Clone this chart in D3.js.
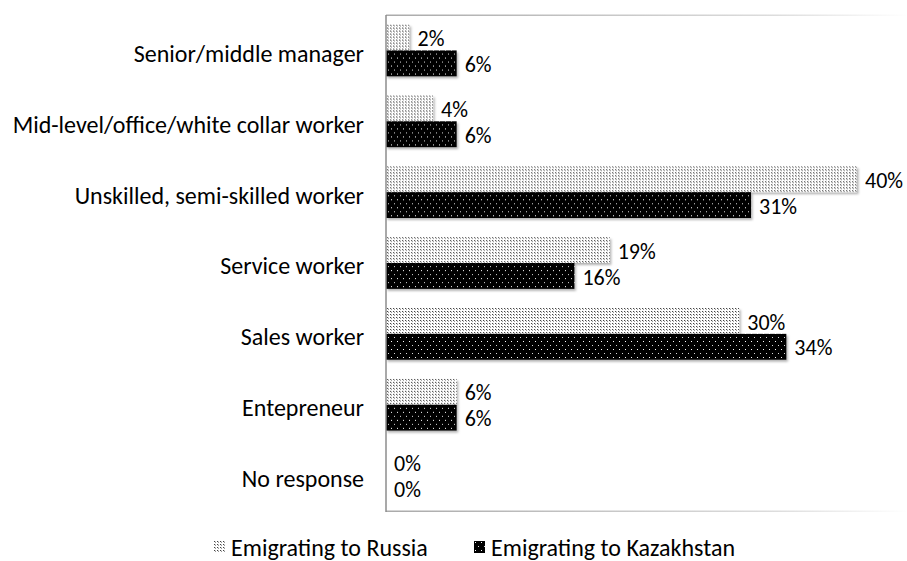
<!DOCTYPE html>
<html>
<head>
<meta charset="utf-8">
<script src="https://cdn.jsdelivr.net/npm/d3@7"></script>
<style>
  body { margin: 0; background: #fff; }
  svg { font-family: Carlito, Lato, sans-serif; }
</style>
</head>
<body>
<svg id="chart" width="907" height="561" viewBox="0 0 907 561"></svg>
<script>
// Data
const categories = ["Senior/middle manager", "Mid-level/office/white collar worker",
    "Unskilled, semi-skilled worker", "Service worker", "Sales worker",
    "Entepreneur", "No response"];
const seriesNames = ["Emigrating to Russia", "Emigrating to Kazakhstan"];
const russia = [2, 4, 40, 19, 30, 6, 0];
const kazakhstan = [6, 6, 31, 16, 34, 6, 0];

const svg = d3.select("#chart");

const plot = { left: 386, top: 15, bottom: 511, right: 907 };
const labelSize = 24;
const valueSize = 22;

const defs = svg.append("defs");

// light dotted pattern (Russia)
const pr = defs.append("pattern").attr("id", "patRussia")
    .attr("patternUnits", "userSpaceOnUse").attr("width", 3).attr("height", 3);
pr.append("rect").attr("width", 3).attr("height", 3).attr("fill", "#fff");
pr.append("rect").attr("width", 1).attr("height", 1).attr("fill", "#444");
pr.append("rect").attr("x", 1).attr("y", 1).attr("width", 1).attr("height", 1).attr("fill", "#999");
pr.append("rect").attr("x", 1).attr("y", 0).attr("width", 1).attr("height", 1).attr("fill", "#d8d8d8");

// black with white dots (Kazakhstan)
const pk = defs.append("pattern").attr("id", "patKaz")
    .attr("patternUnits", "userSpaceOnUse").attr("width", 6).attr("height", 8);
pk.append("rect").attr("width", 6).attr("height", 8).attr("fill", "#000");
pk.append("rect").attr("x", 1).attr("y", 1).attr("width", 1).attr("height", 1).attr("fill", "#fff");
pk.append("rect").attr("x", 4).attr("y", 5).attr("width", 1).attr("height", 1).attr("fill", "#ddd");

const shadow = defs.append("filter").attr("id", "shadow")
    .attr("x", "-5%").attr("y", "-20%").attr("width", "120%").attr("height", "160%");
shadow.append("feDropShadow").attr("dx", 1.5).attr("dy", 2).attr("stdDeviation", 1)
    .attr("flood-color", "#000").attr("flood-opacity", 0.3);

const grad = defs.append("linearGradient").attr("id", "frameGrad")
    .attr("x1", "0%").attr("x2", "100%").attr("y1", "0%").attr("y2", "0%");
grad.append("stop").attr("offset", "0%").attr("stop-color", "#aaa");
grad.append("stop").attr("offset", "75%").attr("stop-color", "#ddd");
grad.append("stop").attr("offset", "100%").attr("stop-color", "#fff");

const fills = ["url(#patRussia)", "url(#patKaz)"];

// Scales
const x = d3.scaleLinear().domain([0, 40]).range([plot.left, 857]);
const y = d3.scaleBand().domain(categories).range([plot.top, plot.bottom])
    .paddingInner(0.27).paddingOuter(0.135);
const ySub = d3.scaleBand().domain(seriesNames).range([0, y.bandwidth()]);

// Frame
svg.append("rect").attr("x", plot.left).attr("y", plot.top - 0.5)
    .attr("width", plot.right - plot.left).attr("height", 1.5).attr("fill", "url(#frameGrad)");
svg.append("rect").attr("x", plot.left).attr("y", plot.bottom - 0.5)
    .attr("width", plot.right - plot.left).attr("height", 1.5).attr("fill", "url(#frameGrad)");

const rows = categories.map((c, i) => ({ category: c, values: [russia[i], kazakhstan[i]] }));

const groups = svg.append("g").selectAll("g")
    .data(rows)
    .join("g")
    .attr("transform", d => `translate(0,${y(d.category)})`);

groups.selectAll("rect")
    .data(d => d.values.map((v, j) => ({ series: seriesNames[j], value: v, j })))
    .join("rect")
    .attr("x", x(0))
    .attr("y", d => ySub(d.series))
    .attr("width", d => x(d.value) - x(0))
    .attr("height", ySub.bandwidth())
    .attr("fill", d => fills[d.j])
    .attr("filter", d => d.value > 0 ? "url(#shadow)" : null);

groups.selectAll("text")
    .data(d => d.values.map((v, j) => ({ series: seriesNames[j], value: v })))
    .join("text")
    .attr("x", d => x(d.value) + 8)
    .attr("y", d => ySub(d.series) + ySub.bandwidth() / 2 + 1)
    .attr("dy", "0.35em")
    .attr("font-size", valueSize)
    .attr("fill", "#000")
    .text(d => d.value + "%");

// Left axis line
svg.append("line").attr("x1", plot.left).attr("x2", plot.left)
    .attr("y1", plot.top).attr("y2", plot.bottom + 1)
    .attr("stroke", "#8c8c8c").attr("stroke-width", 1.5);

// Category labels
svg.append("g").selectAll("text")
    .data(categories)
    .join("text")
    .attr("x", 364)
    .attr("y", d => y(d) + y.bandwidth() / 2 + 3)
    .attr("dy", "0.35em")
    .attr("text-anchor", "end")
    .attr("font-size", labelSize)
    .attr("fill", "#000")
    .text(d => d);

// Legend
const legendItems = [
    { name: seriesNames[0], fill: fills[0], x: 214 },
    { name: seriesNames[1], fill: fills[1], x: 474 }
];
const legend = svg.append("g").selectAll("g").data(legendItems).join("g")
    .attr("transform", d => `translate(${d.x},541)`);
legend.append("rect").attr("width", 11).attr("height", 12).attr("fill", d => d.fill);
legend.append("text").attr("x", 17).attr("y", 7).attr("dy", "0.35em")
    .attr("font-size", labelSize).attr("fill", "#000").text(d => d.name);
</script>
</body>
</html>
